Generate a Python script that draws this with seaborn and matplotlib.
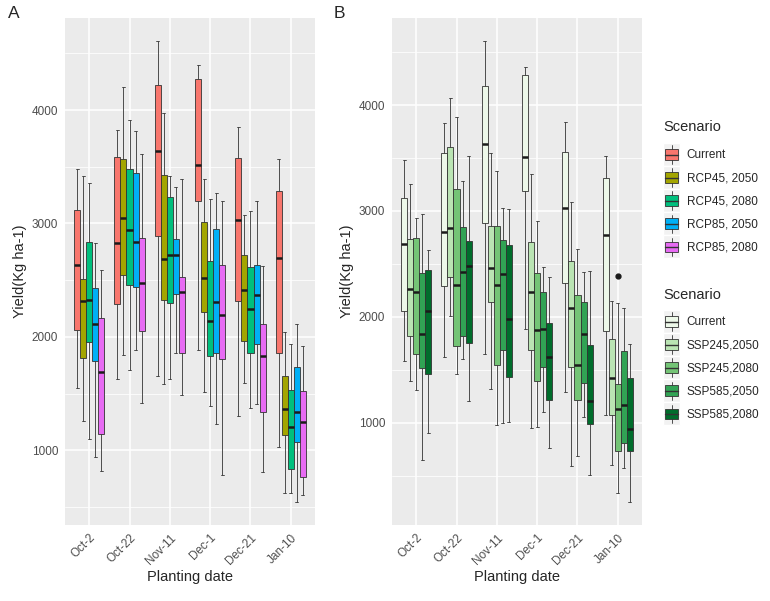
import pandas as pd
import matplotlib
matplotlib.use("Agg")
import matplotlib.pyplot as plt
import seaborn as sns
from matplotlib.patches import Patch, Rectangle
from matplotlib.lines import Line2D
from matplotlib.legend_handler import HandlerBase
from matplotlib.ticker import MultipleLocator

dates = ["Oct-2", "Oct-22", "Nov-11", "Dec-1", "Dec-21", "Jan-10"]

# box stats per planting date: (low whisker, Q1, median, Q3, high whisker)
scen_a = ["Current", "RCP45, 2050", "RCP45, 2080", "RCP85, 2050", "RCP85, 2080"]
a_current = [(1550, 2064, 2638, 3115, 3483), (1626, 2291, 2830, 3585, 3827),
             (1652, 2894, 3635, 4221, 4609), (1888, 3194, 3518, 4277, 4394),
             (1299, 2314, 3029, 3580, 3847), (1029, 1859, 2694, 3289, 3565)]
a_rcp45_2050 = [(1261, 1815, 2320, 2512, 3417), (1844, 2550, 3044, 3565, 4203),
                (1582, 2329, 2691, 3424, 3977), (1515, 2221, 2515, 3015, 3394),
                (1594, 1967, 2409, 2718, 3079), (620, 1132, 1367, 1652, 2044)]
a_rcp45_2080 = [(1100, 1956, 2329, 2835, 3359), (1711, 2459, 2941, 3483, 3912),
                (1632, 2300, 2726, 3236, 3417), (1388, 1829, 2144, 2671, 3218),
                (1373, 1859, 2247, 2614, 3109), (620, 835, 1206, 1532, 1941)]
a_rcp85_2050 = [(938, 1788, 2111, 2432, 2830), (1882, 2441, 2838, 3447, 3812),
                (1859, 2382, 2720, 2865, 3324), (1235, 1859, 2306, 2947, 3265),
                (1411, 1938, 2373, 2638, 3194), (544, 1070, 1335, 1732, 2115)]
a_rcp85_2080 = [(817, 1147, 1688, 2168, 2594), (1414, 2050, 2479, 2876, 3615),
                (1485, 1859, 2394, 2526, 3394), (785, 1809, 2191, 2635, 3200),
                (805, 1338, 1835, 2117, 2629), (608, 764, 1252, 1520, 1923)]

scen_b = ["Current", "SSP245,2050", "SSP245,2080", "SSP585,2050", "SSP585,2080"]
b_current = [(1578, 2053, 2686, 3124, 3480), (1616, 2290, 2797, 3549, 3830),
             (1647, 2885, 3634, 4182, 4605), (1883, 3187, 3511, 4284, 4362),
             (1285, 2315, 3027, 3559, 3842), (1074, 1867, 2771, 3313, 3521)]
b_ssp245_2050 = [(1392, 1820, 2258, 2734, 3257), (2003, 2372, 2841, 3603, 4063),
                 (1316, 2142, 2463, 2860, 3549), (954, 1688, 2230, 2702, 3348),
                 (586, 1530, 2085, 2529, 3083), (598, 1070, 1426, 1795, 2145)]
b_ssp245_2080 = [(1310, 1653, 2230, 2740, 2929), (1458, 1725, 2299, 3206, 3884),
                 (976, 1549, 2299, 2860, 3376), (963, 1395, 1877, 2412, 2904),
                 (686, 1212, 1543, 2207, 2639), (333, 737, 1127, 1367, 2126)]
b_ssp585_2050 = [(645, 1521, 1836, 2410, 2973), (1606, 1820, 2419, 2844, 3285),
                 (998, 1688, 2406, 2721, 3024), (1102, 1530, 1883, 2230, 2475),
                 (1058, 1379, 1839, 2142, 2425), (570, 812, 1168, 1675, 2085)]
b_ssp585_2080 = [(903, 1464, 2056, 2441, 2627), (1200, 1757, 2482, 2718, 3521),
                 (1007, 1433, 1978, 2677, 3014), (765, 1215, 1625, 1937, 2372),
                 (503, 992, 1206, 1735, 2434), (251, 737, 938, 1420, 1745)]
b_outliers = {("SSP245,2080", "Jan-10"): [2389]}

colors_a = ["#F8766D", "#A3A500", "#00BF7D", "#00B0F6", "#E76BF3"]
colors_b = ["#EDF8E9", "#BAE4B3", "#74C476", "#31A354", "#006D2C"]


def expand(stats, extra=()):
    # points whose quartiles / whiskers reproduce the read stats
    lo, q1, med, q3, hi = stats
    return [lo, q1, q1, med, med, q3, q3, hi, *extra]


def build(scens, series, outliers=None):
    outliers = outliers or {}
    rows = []
    for s, vals in zip(scens, series):
        for d, st in zip(dates, vals):
            for v in expand(st, outliers.get((s, d), [])):
                rows.append({"date": d, "scenario": s, "yield": v})
    return pd.DataFrame(rows)


series_a = [a_current, a_rcp45_2050, a_rcp45_2080, a_rcp85_2050, a_rcp85_2080]
series_b = [b_current, b_ssp245_2050, b_ssp245_2080, b_ssp585_2050, b_ssp585_2080]
df_a = build(scen_a, series_a)
df_b = build(scen_b, series_b, b_outliers)


class BoxKey(HandlerBase):
    def create_artists(self, legend, orig_handle, xdescent, ydescent,
                       width, height, fontsize, trans):
        x0, y0 = -xdescent, -ydescent
        bg = Rectangle((x0, y0), width, height, facecolor="#F2F2F2",
                       edgecolor="white", lw=1, transform=trans)
        box = Rectangle((x0 + 0.14 * width, y0 + 0.27 * height), 0.72 * width, 0.46 * height,
                        facecolor=orig_handle.get_facecolor(), edgecolor="#333333",
                        lw=0.6, transform=trans)
        med = Line2D([x0 + 0.14 * width, x0 + 0.86 * width], [y0 + 0.5 * height] * 2,
                     color="#333333", lw=1.0, transform=trans)
        w1 = Line2D([x0 + 0.5 * width] * 2, [y0 + 0.73 * height, y0 + 0.9 * height],
                    color="#333333", lw=0.6, transform=trans)
        w2 = Line2D([x0 + 0.5 * width] * 2, [y0 + 0.1 * height, y0 + 0.27 * height],
                    color="#333333", lw=0.6, transform=trans)
        return [bg, box, med, w1, w2]


sns.set_style("darkgrid", {"axes.facecolor": "#EBEBEB", "grid.color": "white"})
plt.rcParams["font.family"] = ["Liberation Sans", "DejaVu Sans"]

fig = plt.figure(figsize=(7.7, 6.01), dpi=100)
ax_a = fig.add_axes([65 / 770, 76 / 601, 250 / 770, 507 / 601])
ax_b = fig.add_axes([392 / 770, 76 / 601, 250 / 770, 507 / 601])

for ax, df, scens, cols, series in [(ax_a, df_a, scen_a, colors_a, series_a),
                                    (ax_b, df_b, scen_b, colors_b, series_b)]:
    sns.boxplot(data=df, x="date", y="yield", hue="scenario", order=dates,
                hue_order=scens, palette=cols, saturation=1, width=0.75, gap=0,
                linecolor="#333333", linewidth=0.6, whis=1.5, fliersize=3.5,
                medianprops=dict(color="#1A1A1A", linewidth=1.8),
                flierprops=dict(marker="o", markerfacecolor="#1A1A1A",
                                markeredgecolor="#1A1A1A"),
                legend=False, ax=ax)
    lo, hi = df["yield"].min(), df["yield"].max()
    pad = 0.05 * (hi - lo)
    ax.set_ylim(lo - pad, hi + pad)
    ax.set_xlim(-0.6, len(dates) - 0.4)
    ax.yaxis.set_major_locator(MultipleLocator(1000))
    ax.yaxis.set_minor_locator(MultipleLocator(500))
    ax.grid(which="major", color="white", lw=1.1)
    ax.grid(which="minor", axis="y", color="white", lw=0.55)
    ax.set_axisbelow(True)
    for sp in ax.spines.values():
        sp.set_visible(False)
    ax.tick_params(which="major", length=3, width=0.6, color="#333333",
                   labelcolor="#4D4D4D", labelsize=8.5, pad=2)
    ax.tick_params(which="minor", length=0)
    plt.setp(ax.get_xticklabels(), rotation=45, ha="right", rotation_mode="anchor")
    ax.set_xlabel("Planting date", fontsize=10.5, labelpad=2)
    ax.set_ylabel("Yield(Kg ha-1)", fontsize=10.5, labelpad=3)

fig.text(8 / 770, 1 - 13 / 601, "A", fontsize=12.5, va="center")
fig.text(334 / 770, 1 - 13 / 601, "B", fontsize=12.5, va="center")

# legends: title drawn as text, keys below it
for scens, cols, title_y, top in [(scen_a, colors_a, 127, 143), (scen_b, colors_b, 295, 310)]:
    fig.text(663 / 770, 1 - title_y / 601, "Scenario", fontsize=10.5, va="center")
    handles = [Patch(facecolor=c) for c in cols]
    fig.legend(handles, scens, loc="upper left",
               bbox_to_anchor=(663 / 770, 1 - top / 601), frameon=False,
               borderpad=0, borderaxespad=0, fontsize=8.5,
               handlelength=1.45, handleheight=2.63, labelspacing=0.0,
               handletextpad=0.55, handler_map={Patch: BoxKey()})

fig.savefig("out.png", dpi=100)
